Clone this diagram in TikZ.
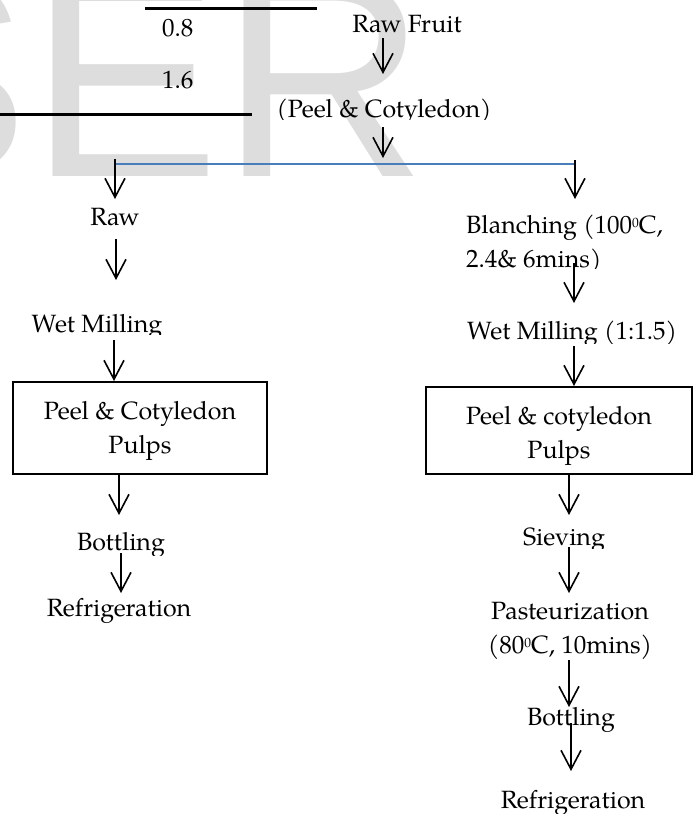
\documentclass[tikz,border=0pt]{standalone}
\usepackage{fontspec}
\setmainfont{texgyrepagella}[Extension=.otf, UprightFont=*-regular, BoldFont=*-bold, ItalicFont=*-italic, BoldItalicFont=*-bolditalic]
\newfontfamily\wmfont{Liberation Sans}
\usetikzlibrary{arrows.meta}
\definecolor{wmgray}{RGB}{221,221,221}
\definecolor{wordblue}{RGB}{74,126,187}
\newcommand{\degsup}{\raisebox{6pt}{\fontsize{13.5}{14}\selectfont 0}}
\tikzset{
  txt/.style={inner sep=0pt, anchor=base, font=\fontsize{25}{34}\selectfont},
  arr/.style={line width=1.6pt, -{Straight Barb[length=19pt,width=20pt]}},
  rule/.style={line width=3pt},
  blueline/.style={line width=1.5pt, draw=wordblue},
  procbox/.style={draw, line width=1.3pt, inner sep=0pt, align=center, font=\fontsize{25}{34}\selectfont, anchor=base},
}
\begin{document}
\begin{tikzpicture}[x=1pt,y=-1pt]
\useasboundingbox (0,0) rectangle (694,814);
% watermark
\begin{scope}
\clip (0,0) rectangle (694,814);
\node[inner sep=0pt, anchor=base west, text=wmgray, font=\wmfont\fontsize{286}{286}\selectfont] (wm) at (-161.4,176) {SER};
\end{scope}
% top rules
\coordinate (r1a) at (145,8); \coordinate (r1b) at (317,8);
\coordinate (r2a) at (0,114); \coordinate (r2b) at (252,114);
\draw[rule] (r1a) -- (r1b);
\draw[rule] (r2a) -- (r2b);
\node[txt, anchor=base west] (n08) at (162,36) {0.8};
\node[txt, anchor=base west] (n16) at (162,88) {1.6};
% main trunk
\node[txt] (rawfruit) at (407,32) {Raw Fruit};
\begin{scope}\clip (250,80) rectangle (520,119);
\node[txt] (peelcot) at (384,117) {(Peel \& Cotyledon)};
\end{scope}
% left branch
\node[txt] (raw) at (115,225) {Raw};
\begin{scope}\clip (0,290) rectangle (260,334);
\node[txt] (wetL) at (97,332) {Wet Milling};
\end{scope}
\node[procbox, minimum width=254pt, text height=71pt, text depth=21pt] (boxL) at (140,453) {Peel \& Cotyledon\\Pulps};
\begin{scope}\clip (0,510) rectangle (260,555);
\node[txt] (bottL) at (121,550) {Bottling};
\end{scope}
\node[txt] (refrL) at (119,616) {Refrigeration};
% right branch
\node[txt, anchor=base west] (blanch1) at (466,233) {Blanching (100\degsup C,};
\begin{scope}\clip (440,240) rectangle (694,268);
\node[txt, anchor=base west] (blanch2) at (466,267) {2.4\& 6mins)};
\end{scope}
\begin{scope}\clip (440,300) rectangle (694,343);
\node[txt] (wetR) at (572,339) {Wet Milling (1:1.5)};
\end{scope}
\node[procbox, minimum width=266pt, text height=71pt, text depth=16pt] (boxR) at (559,458) {Peel \& cotyledon\\Pulps};
\begin{scope}\clip (440,510) rectangle (694,548);
\node[txt] (siev) at (564,545) {Sieving};
\end{scope}
\node[txt] (past1) at (570,619) {Pasteurization};
\node[txt] (past2) at (570,653) {(80\degsup C, 10mins)};
\begin{scope}\clip (440,690) rectangle (694,732);
\node[txt] (bottR) at (571,725) {Bottling};
\end{scope}
\node[txt] (refrR) at (573,808) {Refrigeration};
% split line
\coordinate (bl) at (114,164); \coordinate (br) at (576,164);
\draw[blueline] (bl) -- (br);
% arrows
\foreach \n/\x/\ya/\yb in {a1/383/38/74, a2/383/127/158,
  aL0/115/159/199, aL1/116/239/280, aL2/114/340/381, aL3/119/474/515, aL4/121/553/593,
  aR0/575/160/199, aR1/574/263/303, aR2/574/346/386, aR3/569/474/515, aR4/569/547/593,
  aR5/569/660/707, aR6/571/723/771}{
  \coordinate (\n s) at (\x,\ya);
  \coordinate (\n e) at (\x,\yb);
  \draw[arr] (\n s) -- (\n e);
}
\end{tikzpicture}
\end{document}
